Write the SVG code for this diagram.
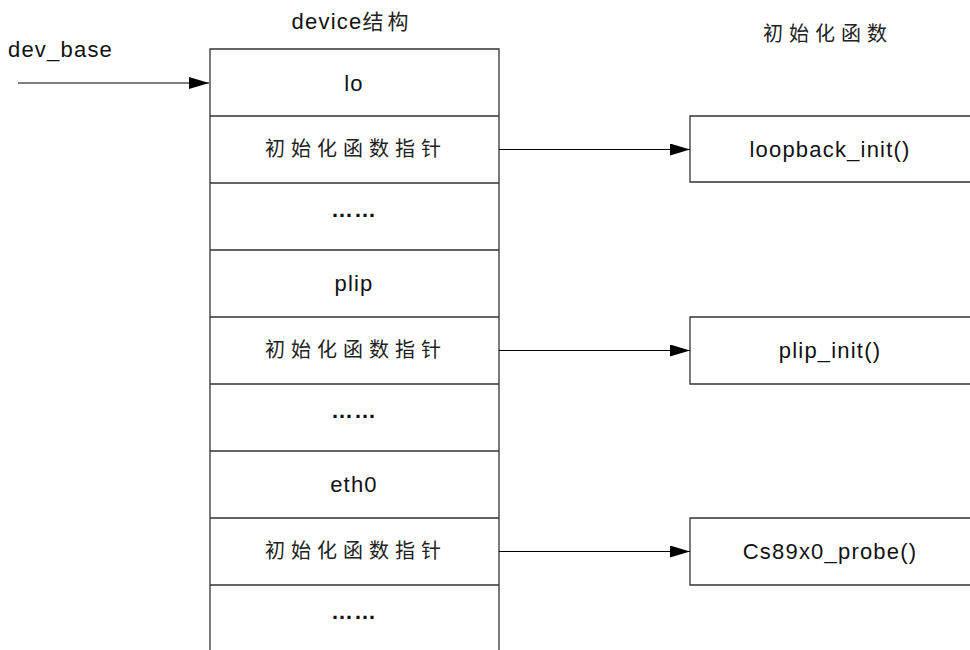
<svg xmlns="http://www.w3.org/2000/svg" width="970" height="650" viewBox="0 0 970 650">
<defs>
<marker id="ah" markerWidth="20" markerHeight="12" refX="20" refY="6" orient="auto" markerUnits="userSpaceOnUse">
<path d="M0,0 L20,6 L0,12 Z" fill="#000"/>
</marker>
<style>
.lat{font-family:"Liberation Sans",Arial,sans-serif;font-size:22px;fill:#111;letter-spacing:1.2px}
.cjk{font-family:"Liberation Sans","Noto Sans CJK SC",sans-serif;font-size:20px;fill:#222;letter-spacing:6px}
.dots{font-family:"Liberation Sans",Arial,sans-serif;font-size:22px;font-weight:bold;fill:#111;letter-spacing:1px}
.ln{stroke:#333;stroke-width:1.3;fill:none}
.conn{stroke:#000;stroke-width:1;fill:none}
</style>
</defs>
<rect width="970" height="650" fill="#fff"/>
<text class="lat" x="352" y="29" text-anchor="middle">device<tspan class="cjk" style="font-size:21px;letter-spacing:4px">结构</tspan></text>
<text class="lat" x="8" y="57">dev_base</text>
<text class="cjk" x="763" y="41">初始化函数</text>
<g id="device">
<path class="ln" d="M210,650 V49 H499 V650"/>
<path class="ln" d="M210,116 H499 M210,183 H499 M210,250 H499 M210,317 H499 M210,384 H499 M210,451 H499 M210,518 H499 M210,585 H499"/>
<g id="row-lo"><text class="lat" x="354" y="91" text-anchor="middle">lo</text></g>
<g id="row-fp1"><text class="cjk" x="356" y="156" text-anchor="middle">初始化函数指针</text></g>
<g id="row-dots1"><text class="dots" x="354" y="217" text-anchor="middle">……</text></g>
<g id="row-plip"><text class="lat" x="354" y="291" text-anchor="middle">plip</text></g>
<g id="row-fp2"><text class="cjk" x="356" y="357" text-anchor="middle">初始化函数指针</text></g>
<g id="row-dots2"><text class="dots" x="354" y="418" text-anchor="middle">……</text></g>
<g id="row-eth0"><text class="lat" x="354" y="492" text-anchor="middle">eth0</text></g>
<g id="row-fp3"><text class="cjk" x="356" y="558" text-anchor="middle">初始化函数指针</text></g>
<g id="row-dots3"><text class="dots" x="354" y="619" text-anchor="middle">……</text></g>
</g>
<g id="loopback">
<path class="ln" d="M975,116 H690 V182 H975"/>
<text class="lat" x="830" y="157" text-anchor="middle">loopback_init()</text>
</g>
<g id="plip_init">
<path class="ln" d="M975,317 H690 V384 H975"/>
<text class="lat" x="830" y="358" text-anchor="middle">plip_init()</text>
</g>
<g id="cs89x0">
<path class="ln" d="M975,518 H690 V585 H975"/>
<text class="lat" x="830" y="559" text-anchor="middle">Cs89x0_probe()</text>
</g>
<g id="connectors">
<line class="conn" x1="18" y1="83" x2="209" y2="83" marker-end="url(#ah)"/>
<line class="conn" x1="499" y1="149.5" x2="690" y2="149.5" marker-end="url(#ah)"/>
<line class="conn" x1="499" y1="350.5" x2="690" y2="350.5" marker-end="url(#ah)"/>
<line class="conn" x1="499" y1="551.5" x2="690" y2="551.5" marker-end="url(#ah)"/>
</g>
</svg>
